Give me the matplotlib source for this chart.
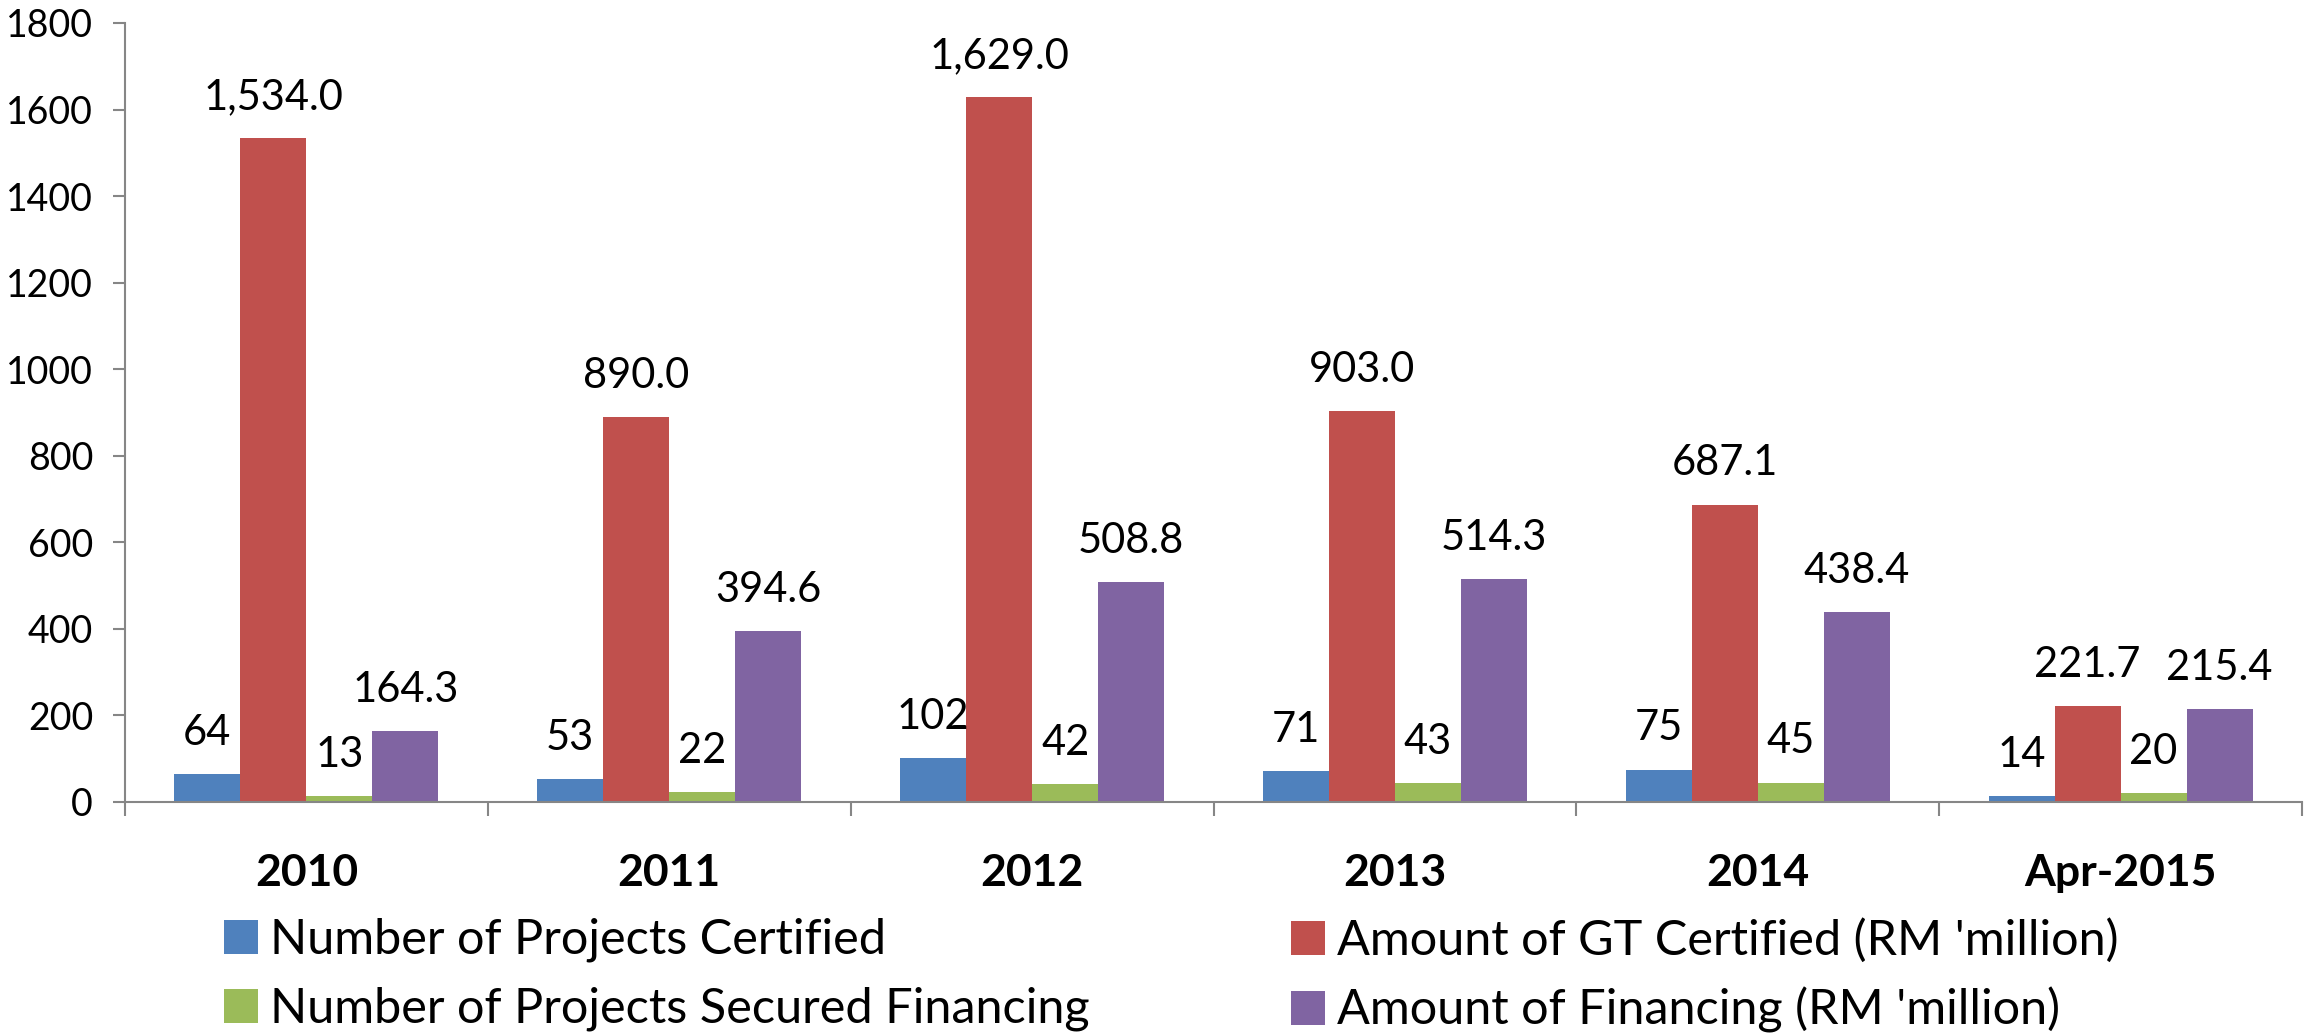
import numpy as np
import matplotlib
matplotlib.use("Agg")
import matplotlib.pyplot as plt
from matplotlib.patches import Patch

plt.rcParams['font.family'] = ['Lato', 'DejaVu Sans']

years = ["2010", "2011", "2012", "2013", "2014", "Apr-2015"]
projects_certified = [64, 53, 102, 71, 75, 14]
gt_certified = [1534.0, 890.0, 1629.0, 903.0, 687.1, 221.7]
projects_financed = [13, 22, 42, 43, 45, 20]
financing_amount = [164.3, 394.6, 508.8, 514.3, 438.4, 215.4]

series = [
    ("Number of Projects Certified", projects_certified, "#4F81BD", "{:.0f}"),
    ("Amount of GT Certified (RM 'million)", gt_certified, "#C0504D", "{:,.1f}"),
    ("Number of Projects Secured Financing", projects_financed, "#9BBB59", "{:.0f}"),
    ("Amount of Financing (RM 'million)", financing_amount, "#8064A2", "{:,.1f}"),
]

W, H = 2308, 1035
fig = plt.figure(figsize=(W / 100, H / 100), dpi=100)
ax = fig.add_axes([125 / W, 233 / H, (2302 - 125) / W, (802 - 23) / H])

x = np.arange(len(years))
bw = 0.182
axis_col = "#868686"
for i, (name, vals, col, fmt) in enumerate(series):
    pos = x + (i - 1.5) * bw
    bars = ax.bar(pos, vals, width=bw, color=col, edgecolor="none", label=name)
    ax.bar_label(bars, labels=[fmt.format(v) for v in vals], padding=16,
                 fontsize=30, color="black")

ax.set_xlim(-0.5, len(years) - 0.5)
ax.set_ylim(0, 1800)
ax.set_yticks(range(0, 1801, 200))
ax.tick_params(axis="y", labelsize=27, length=9, width=1.5, color=axis_col, pad=14)

ax.set_xticks(np.arange(len(years) + 1) - 0.5)
ax.set_xticklabels([])
ax.tick_params(axis="x", which="major", length=10, width=1.5, color=axis_col)
ax.set_xticks(x, minor=True)
ax.set_xticklabels(years, minor=True, fontsize=32, fontweight="bold")
ax.tick_params(axis="x", which="minor", length=0, pad=37)

for s in ["top", "right"]:
    ax.spines[s].set_visible(False)
for s in ["left", "bottom"]:
    ax.spines[s].set_color(axis_col)
    ax.spines[s].set_linewidth(1.5)

handles = [Patch(facecolor=c, label=n) for n, v, c, f in series]
leg_kw = dict(frameon=False, fontsize=35, handlelength=0.7, handleheight=0.7,
              handletextpad=0.25, labelspacing=0.5, borderpad=0, borderaxespad=0,
              loc="upper left")
leg1 = fig.legend(handles=[handles[0], handles[2]], bbox_to_anchor=(224 / W, 1 - 918 / H), **leg_kw)
leg2 = fig.legend(handles=[handles[1], handles[3]], bbox_to_anchor=(1291 / W, 1 - 918 / H), **leg_kw)

fig.savefig("out.png", dpi=100)
